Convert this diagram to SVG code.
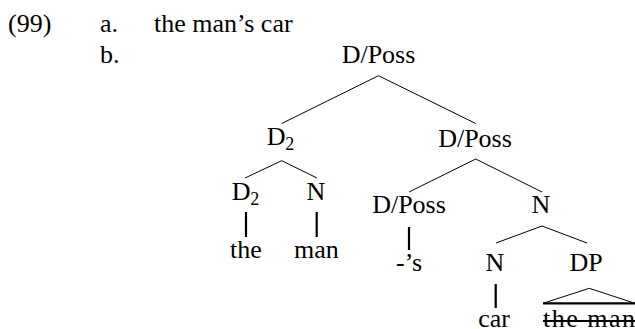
<svg xmlns="http://www.w3.org/2000/svg" width="635" height="329" viewBox="0 0 635 329">
<style>
text{font-family:"Liberation Serif","Times New Roman",serif;font-size:26px;fill:#000}
.m{text-anchor:middle}
.sub{font-size:18px}
.e{stroke:#000;stroke-width:1;fill:none}
.v{stroke:#000;stroke-width:2.2;fill:none}
</style>
<rect width="635" height="329" fill="#fff"/>
<g id="label">
<text x="8" y="32">(99)</text>
<text x="100" y="32">a.</text>
<text x="154" y="32">the man’s car</text>
<text x="100" y="63">b.</text>
</g>
<g id="connectors">
<path class="e" d="M378.5,75.7 L281.7,123.5 M378.5,75.7 L475.7,123.5"/>
<path class="e" d="M281.7,160.7 L245,178 M281.7,160.7 L317,178"/>
<path class="e" d="M475.7,159 L409,192 M475.7,159 L542,192"/>
<path class="e" d="M542,226 L496,243 M542,226 L587,243"/>
<path class="v" d="M246,212 V237 M316.7,212 V237 M409,227 V250 M495.7,284 V308"/>
<path class="e" d="M589.3,288.3 L543,303.3 M589.3,288.3 L635,303.3"/>
<path class="v" d="M543,303.3 H635"/>
<path class="v" d="M543,321 H635"/>
</g>
<g id="n-dposs-top"><text class="m" x="378.5" y="63">D/Poss</text></g>
<g id="n-d2-upper"><text x="266.7" y="145">D</text><text class="sub" x="285.3" y="150">2</text></g>
<g id="n-dposs-mid"><text class="m" x="475" y="146.7">D/Poss</text></g>
<g id="n-d2-lower"><text x="231.7" y="200">D</text><text class="sub" x="250.3" y="205">2</text></g>
<g id="n-n-man"><text class="m" x="316" y="200">N</text></g>
<g id="n-dposs-low"><text class="m" x="409" y="213">D/Poss</text></g>
<g id="n-n-right"><text class="m" x="541" y="213">N</text></g>
<g id="n-the"><text class="m" x="246" y="258">the</text></g>
<g id="n-man"><text class="m" x="316.5" y="258">man</text></g>
<g id="n-s"><text class="m" x="409" y="271">-’s</text></g>
<g id="n-n-car"><text class="m" x="495" y="271">N</text></g>
<g id="n-dp"><text class="m" x="586" y="271">DP</text></g>
<g id="n-car"><text class="m" x="494" y="327">car</text></g>
<g id="n-theman"><text x="543" y="327" textLength="92">the man</text></g>
</svg>
